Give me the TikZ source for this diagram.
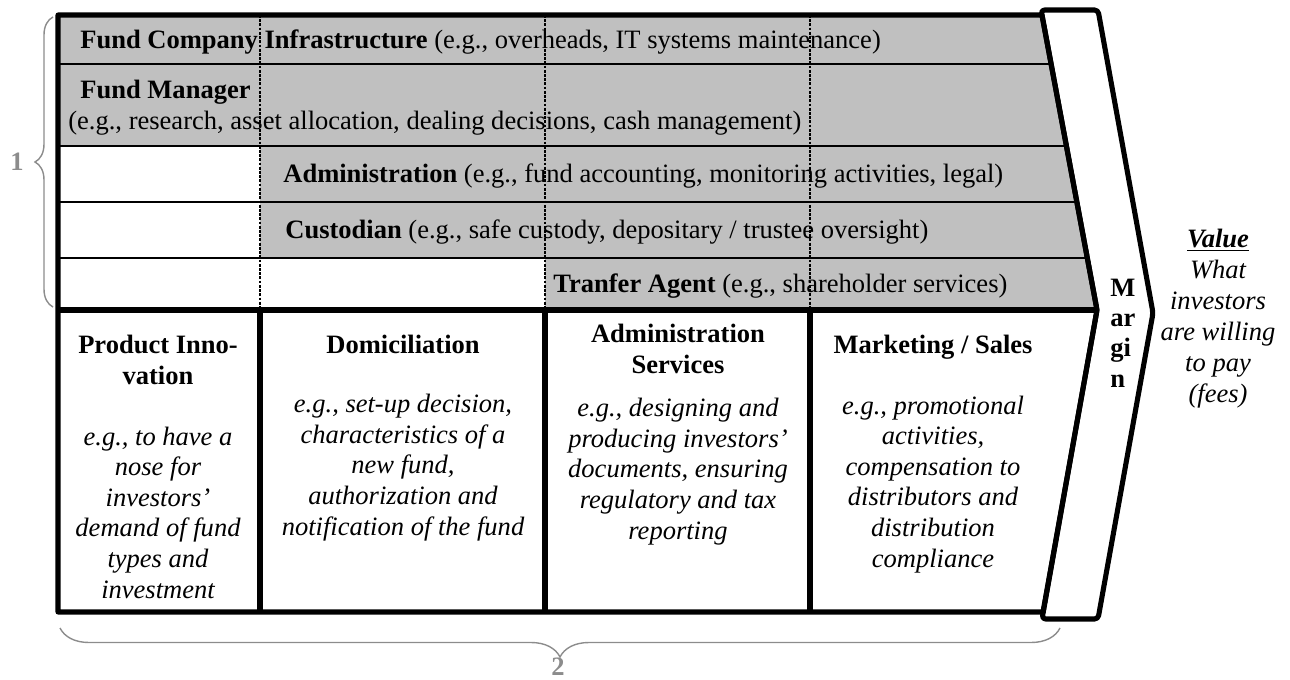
\documentclass[tikz,border=0pt]{standalone}
\usepackage{fontspec}
\setmainfont{Liberation Serif}
\usetikzlibrary{calc,positioning,decorations.pathreplacing}
\definecolor{support}{RGB}{192,192,192}
\definecolor{bracegray}{RGB}{140,140,140}
\newcommand{\chainfont}{\fontsize{15.1}{17.4}\selectfont}
\tikzset{line/.style={draw, line width=2.9pt, line join=round}}

\begin{document}
\begin{tikzpicture}[x=0.02cm, y=-0.02cm, font=\chainfont]
\tikzstyle{row} = [anchor=base west, inner sep=0pt]
\tikzstyle{head} = [anchor=base, inner sep=0pt, align=center, font=\chainfont\bfseries]
\tikzstyle{eg} = [anchor=base, inner sep=0pt, align=center, font=\chainfont\itshape]
\tikzstyle{thin} = [draw, line width=1.1pt]
\tikzstyle{dots} = [draw, line width=1.1pt, dash pattern=on 1.6pt off 0.8pt]
\tikzstyle{curly} = [draw, bracegray, line width=0.8pt, decorate]
\tikzstyle{num} = [anchor=base, inner sep=0pt, text=bracegray, font=\chainfont\bfseries]

\useasboundingbox (0,0) rectangle (1290,679);

% corners of the chain
\coordinate (tl) at (58,15);
\coordinate (tr) at (1042,15);
\coordinate (tip) at (1097,310);
\coordinate (ml) at (58,310);
\coordinate (bl) at (58,612);
\coordinate (br) at (1043,612);
\coordinate (r1) at ($(tr)!0.1661!(tip)$);
\coordinate (r2) at ($(tr)!0.4441!(tip)$);
\coordinate (r3) at ($(tr)!0.6339!(tip)$);
\coordinate (r4) at ($(tr)!0.8237!(tip)$);

% support activities
\fill[support] (tl) -- (tr) -- (r2) -- (58,146) -- cycle;
\fill[support] (260,146) -- (r2) -- (r4) -- (260,258) -- cycle;
\fill[support] (545,258) -- (r4) -- (tip) -- (545,310) -- cycle;

\node[row] (infra) at (80,49) {\textbf{Fund Company Infrastructure} (e.g., overheads, IT systems maintenance)};
\node[row] (manager) at (80,98) {\textbf{Fund Manager}};
\node[row] (managereg) at (68,129) {(e.g., research, asset allocation, dealing decisions, cash management)};
\node[row] (admin) at (283,182) {\textbf{Administration} (e.g., fund accounting, monitoring activities, legal)};
\node[row] (custody) at (285,238) {\textbf{Custodian} (e.g., safe custody, depositary / trustee oversight)};
\node[row] (transfer) at (553,292) {\textbf{Tranfer Agent} (e.g., shareholder services)};

% primary activities (base = last line)
\node[head] (innov) at (158,384) {Product Inno-\\vation};
\node[eg] (innoveg) at (158,598) {e.g., to have a\\nose for\\investors’\\demand of fund\\types and\\investment};
\node[head] (domi) at (403,353) {Domiciliation};
\node[eg] (domieg) at (403,535) {e.g., set-up decision,\\characteristics of a\\new fund,\\authorization and\\notification of the fund};
\node[head] (adserv) at (678,373) {Administration\\Services};
\node[eg] (adserveg) at (678,539) {e.g., designing and\\producing investors’\\documents, ensuring\\regulatory and tax\\reporting};
\node[head] (sales) at (933,353) {Marketing / Sales};
\node[eg] (saleseg) at (933,567) {e.g., promotional\\activities,\\compensation to\\distributors and\\distribution\\compliance};

% margin and value
\node[anchor=base west, inner sep=0pt, align=left, font=\fontsize{15.1}{17.1}\selectfont\bfseries] (margin) at (1110,387) {M\\ar\\gi\\n};
\node[eg, font=\fontsize{15.1}{17.6}\selectfont\itshape] (value) at (1218,402) {\textbf{\underline{Value}}\\What\\investors\\are willing\\to pay\\(fees)};

% grid lines
\foreach \x in {260,545,810}
  \path[dots] (\x,15) -- (\x,310);
\path[thin] (58,64) -- (r1);
\path[thin] (58,146) -- (r2);
\path[thin] (58,202) -- (r3);
\path[thin] (58,258) -- (r4);
\path[line] (ml) -- (tip);
\foreach \x in {260,545,810}
  \path[line] (\x,310) -- (\x,612);
\path[line] (tl) -- (tr) -- (tip) -- (br) -- (bl) -- cycle;
\path[line, rounded corners=2pt] (1041,10) -- (1098,10) -- (1153,313) -- (1098,619) -- (1042,619) -- (tip) -- cycle;

% braces
\path[curly, decoration={brace, amplitude=0.36cm}] (53,307) -- (53,17);
\path[curly, decoration={brace, amplitude=0.58cm}] (1060,628) -- (60,628);
\node[num] (one) at (17,170) {1};
\node[num] (two) at (558,675) {2};
\end{tikzpicture}
\end{document}
